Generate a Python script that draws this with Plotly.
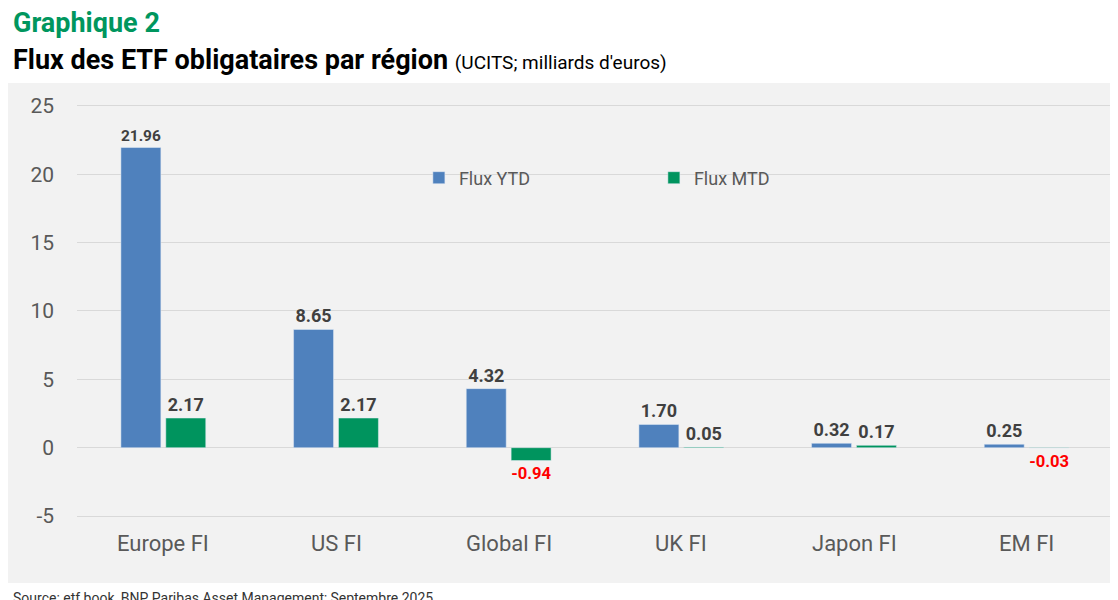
import plotly.graph_objects as go

regions = ["Europe FI", "US FI", "Global FI", "UK FI", "Japon FI", "EM FI"]
flux_ytd = [21.96, 8.65, 4.32, 1.70, 0.32, 0.25]
flux_mtd = [2.17, 2.17, -0.94, 0.05, 0.17, -0.03]
y_ticks = [-5, 0, 5, 10, 15, 20, 25]

font = "Roboto"
grey = "#404040"


def label_colors(vals):
    return ["#ff0000" if v < 0 else grey for v in vals]


fig = go.Figure()
fig.add_trace(go.Bar(
    x=regions, y=flux_ytd, name="Flux YTD", marker_color="#4f81bd",
    text=[f"<b>{v:.2f}</b>" for v in flux_ytd], textposition="outside",
    textfont=dict(size=18, color=label_colors(flux_ytd), family=font),
    cliponaxis=False,
))
fig.add_trace(go.Bar(
    x=regions, y=flux_mtd, name="Flux MTD", marker_color="#00945e",
    text=[f"<b>{v:.2f}</b>" for v in flux_mtd], textposition="outside",
    textfont=dict(size=18, color=label_colors(flux_mtd), family=font),
    cliponaxis=False,
))

# category labels inside the grey area
for r in regions:
    fig.add_annotation(x=r, y=-7.0, text=r, showarrow=False, yanchor="middle",
                       font=dict(size=22, color="#595959", family=font))

fig.update_layout(
    width=1118, height=600,
    margin=dict(l=69, r=13, t=75, b=25, autoexpand=False),
    paper_bgcolor="white", plot_bgcolor="#f2f2f2",
    barmode="group", bargap=0.48, bargroupgap=0.11,
    font=dict(family=font, color=grey),
    showlegend=True,
    legend=dict(orientation="h", x=0.33, y=0.81, xanchor="left", yanchor="middle",
                bgcolor="rgba(0,0,0,0)", font=dict(size=18, color="#595959"),
                itemwidth=30, entrywidth=190),
)
fig.update_xaxes(showticklabels=False, showgrid=False, zeroline=False)
fig.update_yaxes(range=[-9.9, 26.68], tickvals=y_ticks,
                 ticktext=[str(t) for t in y_ticks], showgrid=True,
                 gridcolor="#d9d9d9", zeroline=False, automargin=False,
                 tickfont=dict(size=21, color="#595959"), ticks="", ticklabelstandoff=22)

# grey band behind the y tick labels
fig.add_shape(type="rect", xref="paper", yref="paper", x0=-69 / 1036, x1=1.02,
              y0=0, y1=1, fillcolor="#f2f2f2", line_width=0, layer="below")

fig.add_annotation(xref="paper", yref="paper", x=-69 / 1036 + 0.003, y=1.085,
                   xanchor="left", yanchor="bottom", showarrow=False,
                   text="<b>Graphique 2</b>", font=dict(size=27, color="#00965e"))
fig.add_annotation(xref="paper", yref="paper", x=-69 / 1036 + 0.003, y=1.01,
                   xanchor="left", yanchor="bottom", showarrow=False,
                   text="<b>Flux des ETF obligataires par région</b> "
                        "<span style='font-size:19px'>(UCITS; milliards d'euros)</span>",
                   font=dict(size=27, color="black"))
fig.add_annotation(xref="paper", yref="paper", x=-69 / 1036 + 0.003, y=-0.03,
                   xanchor="left", yanchor="middle", showarrow=False,
                   text="Source: etf book, BNP Paribas Asset Management; Septembre 2025.",
                   font=dict(size=14, color="#333333"))

fig.write_html("out.html")
